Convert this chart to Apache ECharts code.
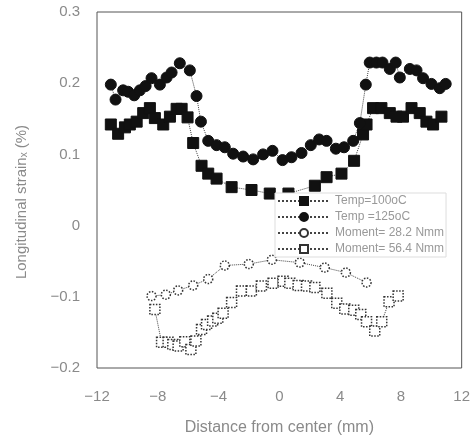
<!DOCTYPE html>
<html><head><meta charset="utf-8">
<script src="https://cdn.jsdelivr.net/npm/echarts@6/dist/echarts.min.js"></script>
<style>html,body{margin:0;padding:0;background:#fff}#c{width:473px;height:441px}</style>
</head><body><div id="c"></div>
<script>
const seriesNames = ['Temp=100oC', 'Temp =125oC', 'Moment= 28.2 Nmm', 'Moment= 56.4 Nmm'];
const xTicks = [-12, -8, -4, 0, 4, 8, 12];
const yTicks = [-0.2, -0.1, 0, 0.1, 0.2, 0.3];

const temp100X = [-11.09,-10.61,-10.16,-9.84,-9.39,-8.96,-8.52,-8.19,-7.64,-7.20,-6.76,-6.43,-6.04,-5.67,-5.12,-4.68,-4.13,-3.14,-1.83,-0.63,0.6,2.34,3.11,4.09,4.92,5.51,5.74,6.17,6.72,7.27,7.71,8.14,8.70,9.24,9.68,10.12,10.67];
const temp100Y = [0.142,0.129,0.138,0.142,0.146,0.158,0.165,0.151,0.142,0.153,0.164,0.164,0.152,0.116,0.084,0.073,0.066,0.054,0.050,0.045,0.045,0.056,0.068,0.073,0.091,0.128,0.142,0.165,0.165,0.158,0.153,0.153,0.165,0.158,0.146,0.142,0.153];

const temp125X = [-11.09,-10.78,-10.28,-9.95,-9.55,-9.18,-8.80,-8.41,-7.86,-7.42,-7.09,-6.55,-5.89,-5.45,-5.16,-4.68,-4.13,-3.59,-3.04,-2.38,-1.72,-1.07,-0.45,0.21,0.80,1.46,2.07,2.62,3.11,3.72,4.26,4.86,5.30,5.69,5.95,6.39,6.79,7.27,7.66,7.93,8.59,9.03,9.46,10.01,10.56,10.95];
const temp125Y = [0.198,0.177,0.190,0.188,0.183,0.190,0.196,0.207,0.198,0.208,0.215,0.228,0.218,0.182,0.146,0.119,0.113,0.110,0.101,0.097,0.093,0.100,0.105,0.092,0.096,0.102,0.113,0.121,0.119,0.108,0.110,0.119,0.144,0.198,0.229,0.229,0.229,0.220,0.229,0.208,0.220,0.218,0.207,0.199,0.193,0.199];

const moment28X = [-8.41,-7.47,-6.66,-5.67,-4.68,-3.59,-2.01,-0.49,1.35,2.99,4.38,5.74];
const moment28Y = [-0.099,-0.097,-0.091,-0.084,-0.075,-0.056,-0.054,-0.048,-0.052,-0.059,-0.066,-0.080];

const moment56X = [-8.19,-7.75,-7.32,-7.01,-6.66,-6.22,-5.82,-5.49,-5.12,-4.79,-4.39,-4.05,-3.70,-3.14,-2.49,-1.84,-1.18,-0.41,0.25,0.69,1.24,1.79,2.34,3.13,3.78,4.31,4.90,5.36,5.74,6.28,6.74,7.22,7.82];
const moment56Y = [-0.118,-0.164,-0.164,-0.167,-0.169,-0.163,-0.174,-0.162,-0.146,-0.139,-0.134,-0.130,-0.123,-0.108,-0.092,-0.092,-0.085,-0.081,-0.078,-0.081,-0.084,-0.085,-0.087,-0.095,-0.109,-0.117,-0.119,-0.125,-0.135,-0.148,-0.135,-0.107,-0.099];

const zip = (xs, ys) => xs.map((x, i) => [x, ys[i]]);
const fmtMinus = s => String(s).replace('-', '\u2212');

const lineStyle = { color: '#444', width: 1, type: 'dotted' };
function mk(name, xs, ys, symbol, filled, size) {
  return {
    name, type: 'line', data: zip(xs, ys),
    symbol, symbolSize: size, showSymbol: true,
    lineStyle,
    itemStyle: filled ? { color: '#111', borderColor: '#111', borderWidth: 1 }
                      : { color: '#fff', borderColor: '#333', borderWidth: 1.5, borderType: 'dotted' },
    emphasis: { disabled: true }, animation: false
  };
}

const FONT = 'Liberation Sans, Arial, sans-serif';
const chart = echarts.init(document.getElementById('c'), null, { renderer: 'canvas' });
const axisText = { color: '#8a8a8a', fontSize: 15, fontFamily: FONT };
chart.setOption({
  animation: false,
  backgroundColor: '#fff',
  grid: { left: 97, right: 11, top: 12, bottom: 67, show: true, borderColor: '#555', borderWidth: 1 },
  xAxis: {
    type: 'value', min: xTicks[0], max: xTicks[xTicks.length - 1], interval: 4,
    name: 'Distance from center (mm)', nameLocation: 'middle', nameGap: 52,
    nameTextStyle: { color: '#8a8a8a', fontSize: 16, fontFamily: FONT },
    axisLine: { show: false }, axisTick: { show: false }, splitLine: { show: false },
    axisLabel: Object.assign({ margin: 21, formatter: v => fmtMinus(v) }, axisText)
  },
  yAxis: {
    type: 'value', min: yTicks[0], max: yTicks[yTicks.length - 1], interval: 0.1,
    name: 'Longitudinal strain\u2093 (%)', nameLocation: 'middle', nameGap: 68, nameRotate: 90,
    nameTextStyle: { color: '#8a8a8a', fontSize: 15, fontFamily: FONT, padding: [0, 24, 0, 0] },
    axisLine: { show: false }, axisTick: { show: false }, splitLine: { show: false },
    axisLabel: Object.assign({ margin: 17, formatter: v => {
      const r = Math.round(v * 10) / 10; return r === 0 ? '0' : fmtMinus(r.toFixed(1)); } }, axisText)
  },
  legend: {
    orient: 'vertical', left: 275, top: 193,
    itemWidth: 52, itemHeight: 10, itemGap: 4,
    backgroundColor: '#fff', borderColor: '#ddd', borderWidth: 1, padding: [2, 2, 2, 2],
    textStyle: { color: '#999', fontSize: 12, fontFamily: FONT },
    data: seriesNames
  },
  series: [
    mk(seriesNames[0], temp100X, temp100Y, 'rect', true, 11),
    mk(seriesNames[1], temp125X, temp125Y, 'circle', true, 11),
    mk(seriesNames[2], moment28X, moment28Y, 'circle', false, 9),
    mk(seriesNames[3], moment56X, moment56Y, 'rect', false, 10)
  ]
});
</script></body></html>
